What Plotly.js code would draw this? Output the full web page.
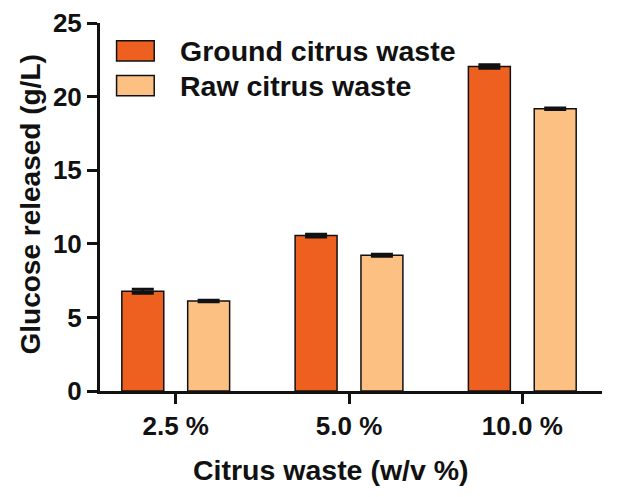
<!DOCTYPE html>
<html>
<head>
<meta charset="utf-8">
<script src="https://cdn.plot.ly/plotly-3.0.1.min.js"></script>
<style>html,body{margin:0;padding:0;background:#fff;}#chart{width:638px;height:497px;}</style>
</head>
<body>
<div id="chart"></div>
<script>
const categories = ["2.5 %", "5.0 %", "10.0 %"];
const seriesNames = ["Ground citrus waste", "Raw citrus waste"];
const groundValues = [6.78, 10.56, 22.05];
const rawValues = [6.12, 9.22, 19.17];
const groundErrors = [0.14, 0.09, 0.12];
const rawErrors = [0.05, 0.07, 0.05];
const yTicks = [0, 5, 10, 15, 20, 25];
const xTitle = "Citrus waste (w/v %)";
const yTitle = "Glucose released (g/L)";

const colors = ["#EE6020", "#FCC083"];
const FONT = "Liberation Sans, Arial, sans-serif";

function barTrace(name, vals, errs, color) {
  return {
    type: "bar", name: name, x: categories, y: vals,
    marker: {color: color, line: {color: "#111", width: 1.5}},
    error_y: {type: "data", array: errs, visible: true, color: "#111", thickness: 3, width: 11},
    showlegend: false, hoverinfo: "x+y"
  };
}
const data = [
  barTrace(seriesNames[0], groundValues, groundErrors, colors[0]),
  barTrace(seriesNames[1], rawValues, rawErrors, colors[1])
];

const legendY = [[0.897, 0.952], [0.802, 0.857]];
const shapes = seriesNames.map((n, i) => ({
  type: "rect", xref: "paper", yref: "paper",
  x0: 0.033, x1: 0.108, y0: legendY[i][0], y1: legendY[i][1],
  fillcolor: colors[i], line: {color: "#111", width: 1.5}
}));
const annotations = seriesNames.map((n, i) => ({
  text: n, xref: "paper", yref: "paper", x: 0.155, y: (legendY[i][0] + legendY[i][1]) / 2,
  xanchor: "left", yanchor: "middle", showarrow: false,
  font: {family: FONT, size: 28.5, color: "#111", weight: "bold"}
}));
annotations.push({
  text: xTitle, xref: "paper", yref: "paper", x: (331 - 100) / 502, y: (391 - 470) / 368,
  xanchor: "center", yanchor: "middle", showarrow: false,
  font: {family: FONT, size: 28.5, color: "#111", weight: "bold"}
});
annotations.push({
  text: yTitle, xref: "paper", yref: "paper", x: (30 - 100) / 502, y: (391 - 204.5) / 368,
  xanchor: "center", yanchor: "middle", showarrow: false, textangle: -90,
  font: {family: FONT, size: 28, color: "#111", weight: "bold"}
});

const layout = {
  width: 638, height: 497,
  margin: {l: 100, r: 36, t: 23, b: 106, pad: 0},
  paper_bgcolor: "#fff", plot_bgcolor: "#fff",
  barmode: "group", bargap: 0.24, bargroupgap: 0.363,
  font: {family: FONT, color: "#111"},
  showlegend: false,
  xaxis: {
    type: "category", range: [-0.437, 2.46], showgrid: false, zeroline: false,
    showline: true, linecolor: "#111", linewidth: 3,
    ticks: "outside", ticklen: 10, tickwidth: 3, tickcolor: "#111",
    tickfont: {family: FONT, size: 26, color: "#111", weight: "bold"},
    fixedrange: true
  },
  yaxis: {
    range: [0, 25], tickvals: yTicks, showgrid: false, zeroline: false,
    showline: true, linecolor: "#111", linewidth: 3,
    ticks: "outside", ticklen: 10, tickwidth: 3, tickcolor: "#111",
    tickfont: {family: FONT, size: 26, color: "#111", weight: "bold"},
    automargin: false, fixedrange: true
  },
  shapes: shapes,
  annotations: annotations
};
Plotly.newPlot("chart", data, layout, {displayModeBar: false, staticPlot: true});
</script>
</body>
</html>
